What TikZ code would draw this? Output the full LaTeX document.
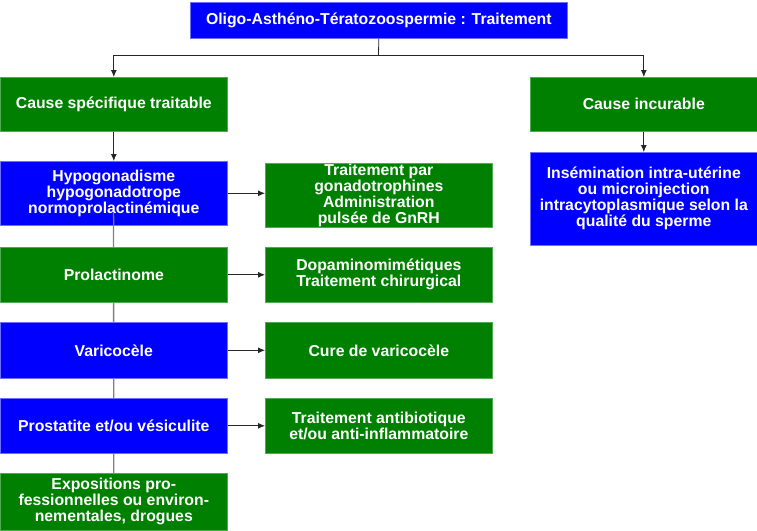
\documentclass[tikz,border=0pt]{standalone}
\usepackage{fontspec}
\setmainfont{Liberation Sans}
\usetikzlibrary{arrows.meta,backgrounds}
\definecolor{bxblue}{RGB}{0,0,255}
\definecolor{bxgreen}{RGB}{0,128,0}
\definecolor{bdblue}{RGB}{110,110,255}
\definecolor{bdgreen}{RGB}{80,170,80}
\begin{document}
\begin{tikzpicture}[x=1pt,y=-1pt,
  box/.style={rectangle, anchor=north west, inner sep=0pt, align=center, text=white,
    font=\bfseries\fontsize{15.8}{16}\selectfont, line width=0.6pt},
  bbox/.style={box, fill=bxblue, draw=bdblue},
  gbox/.style={box, fill=bxgreen, draw=bdgreen},
  conn/.style={draw=black!85, line width=0.8pt, -{Latex[length=7pt,width=6pt]}},
  plain/.style={draw=black!85, line width=0.8pt},
  spine/.style={draw=black!50, line width=1.3pt}]
\useasboundingbox (0,0) rectangle (757,530);

\node[bbox, minimum width=377pt, minimum height=36pt] (top) at (190,2)
  {Oligo-Asthéno-Tératozoospermie : Traitement};
\node[gbox, minimum width=227pt, minimum height=54pt] (cst) at (0,77)
  {Cause spécifique traitable};
\node[gbox, minimum width=227pt, minimum height=54pt] (ci) at (530,77)
  {Cause incurable};
\node[bbox, minimum width=227pt, minimum height=93pt] (ins) at (530,152)
  {Insémination intra-utérine\\ou microinjection\\intracytoplasmique selon la\\qualité du sperme};

\node[bbox, minimum width=227pt, minimum height=64pt] (hypo) at (0,161)
  {Hypogonadisme\\hypogonadotrope\\normoprolactinémique};
\node[gbox, minimum width=227pt, minimum height=55pt] (prl) at (0,247)
  {Prolactinome};
\node[bbox, minimum width=227pt, minimum height=56pt] (var) at (0,322)
  {Varicocèle};
\node[bbox, minimum width=227pt, minimum height=55pt] (pro) at (0,398)
  {Prostatite et/ou vésiculite};
\node[gbox, minimum width=227pt, minimum height=57pt] (expo) at (0,473)
  {Expositions pro-\\fessionnelles ou environ-\\nementales, drogues};

\node[gbox, minimum width=227pt, minimum height=64pt] (t1) at (265,163)
  {Traitement par\\gonadotrophines\\Administration\\pulsée de GnRH};
\node[gbox, minimum width=227pt, minimum height=55pt] (t2) at (265,247)
  {Dopaminomimétiques\\Traitement chirurgical};
\node[gbox, minimum width=227pt, minimum height=56pt] (t3) at (265,322)
  {Cure de varicocèle};
\node[gbox, minimum width=227pt, minimum height=55pt] (t4) at (265,398)
  {Traitement antibiotique\\et/ou anti-inflammatoire};

\coordinate (j) at (378.5,55);
\draw[plain] (top.south) -- (j);
\draw[conn] (j) -| (cst.north);
\draw[conn] (j) -| (ci.north);
\draw[conn] (ci.south) -- (ins.north);
\draw[conn] (cst.south) -- (hypo.north);

\coordinate (hl) at (113.5,212);
\begin{scope}[on background layer]
  \draw[spine] (hl) -- (expo.north);
\end{scope}
\draw[spine] (hl) -- (hypo.south);

\draw[conn] (hypo.east) -- (hypo.east -| t1.west);
\draw[conn] (prl.east) -- (t2.west);
\draw[conn] (var.east) -- (t3.west);
\draw[conn] (pro.east) -- (t4.west);
\end{tikzpicture}
\end{document}
